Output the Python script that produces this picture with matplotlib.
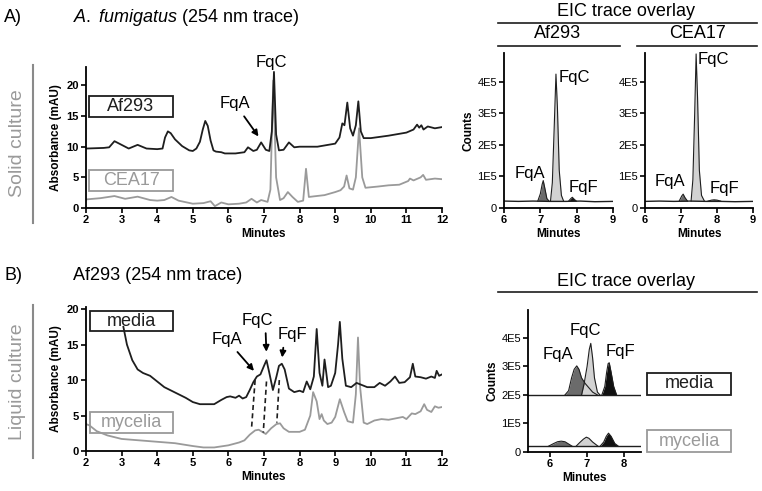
import numpy as np
import matplotlib
matplotlib.use("Agg")
import matplotlib.pyplot as plt
from matplotlib.patches import Rectangle
from matplotlib.lines import Line2D

plt.rcParams['font.family'] = ['Liberation Sans', 'DejaVu Sans']
plt.rcParams['mathtext.fontset'] = 'custom'
plt.rcParams['mathtext.it'] = 'Liberation Sans:italic'
plt.rcParams['mathtext.rm'] = 'Liberation Sans'

# ---- A) solid culture, 254 nm traces (minutes, mAU) ----
a_af293_t = [2.0, 2.5, 2.65, 2.8, 3.0, 3.2, 3.45, 3.7, 4.0, 4.15, 4.22, 4.3, 4.38, 4.5, 4.7, 4.9,
             5.0, 5.1, 5.2, 5.28, 5.35, 5.42, 5.5, 5.58, 5.65, 5.8, 5.9, 6.2, 6.45, 6.55, 6.7, 6.8,
             6.92, 7.05, 7.15, 7.22, 7.28, 7.34, 7.42, 7.55, 7.7, 7.85, 8.0, 8.5, 9.0, 9.12, 9.2,
             9.26, 9.34, 9.42, 9.5, 9.58, 9.65, 9.72, 9.8, 10.0, 10.5, 11.0, 11.2, 11.3, 11.36,
             11.42, 11.48, 11.6, 11.8, 12.0]
a_af293_v = [9.7, 9.8, 9.9, 10.9, 10.3, 9.7, 10.3, 9.7, 9.6, 9.7, 11.5, 12.5, 12.2, 11.2, 10.1, 9.4,
             9.3, 9.7, 10.8, 12.8, 14.2, 13.4, 11.0, 9.4, 9.2, 9.1, 8.9, 8.9, 9.1, 9.9, 9.3, 9.5,
             10.7, 9.5, 9.3, 12.5, 22.2, 12.0, 9.4, 9.5, 10.7, 9.9, 10.0, 10.0, 10.5, 11.5, 13.8,
             13.5, 17.2, 13.0, 11.8, 13.5, 17.4, 12.5, 11.4, 11.4, 11.8, 12.3, 12.8, 13.6, 13.1,
             13.5, 12.8, 13.3, 13.0, 13.2]

a_cea17_t = [2.0, 2.4, 2.8, 3.1, 3.45, 3.8, 4.0, 4.2, 4.4, 4.6, 5.0, 5.3, 5.5, 5.62, 5.8, 6.0, 6.3,
             6.5, 6.65, 6.8, 6.92, 7.1, 7.18, 7.26, 7.34, 7.45, 7.55, 7.67, 7.8, 7.95, 8.1, 8.18, 8.26,
             8.4, 8.7, 9.0, 9.15, 9.25, 9.32, 9.4, 9.5, 9.58, 9.67, 9.76, 9.85, 10.2, 10.5, 10.8, 11.05,
             11.1, 11.2, 11.4, 11.47, 11.55, 11.8, 12.0]
a_cea17_v = [1.4, 1.6, 1.95, 1.5, 1.85, 1.3, 1.2, 1.3, 1.8, 1.2, 0.7, 0.8, 1.1, 0.3, 0.9, 0.6, 0.7,
             0.9, 1.5, 0.9, 1.3, 1.0, 3.0, 20.8, 5.0, 1.3, 1.6, 2.6, 1.8, 1.0, 1.2, 6.4, 1.8,
             1.9, 2.1, 2.6, 2.9, 3.5, 5.3, 3.2, 3.0, 5.0, 13.0, 5.0, 3.3, 3.5, 3.7, 3.8, 4.4,
             4.8, 4.5, 5.0, 5.4, 4.6, 4.8, 4.7]

# ---- B) liquid culture, Af293 254 nm traces ----
b_media_t = [3.05, 3.15, 3.3, 3.45, 3.6, 3.8, 4.0, 4.2, 4.4, 4.6, 4.8, 5.0, 5.2, 5.6, 5.8, 5.95,
             6.05, 6.2, 6.3, 6.4, 6.5, 6.6, 6.7, 6.8, 6.9, 7.0, 7.07, 7.15, 7.25, 7.35, 7.42, 7.5,
             7.58, 7.7, 7.85, 8.0, 8.1, 8.2, 8.3, 8.4, 8.48, 8.56, 8.64, 8.7, 8.75, 8.8, 8.88, 9.0,
             9.08, 9.13, 9.2, 9.3, 9.45, 9.6, 9.75, 9.9, 10.1, 10.25, 10.4, 10.55, 10.68, 10.8,
             10.95, 11.1, 11.18, 11.25, 11.4, 11.55, 11.7, 11.8, 11.85, 11.92, 12.0]
b_media_v = [17.5, 15.0, 12.8, 11.5, 11.0, 10.6, 9.8, 9.0, 8.5, 8.0, 7.5, 6.9, 6.6, 6.6, 7.2, 7.6,
             7.7, 7.5, 7.8, 7.4, 7.6, 8.6, 9.7, 10.5, 10.8, 12.0, 12.8, 11.0, 8.6, 10.5, 12.0, 12.3,
             11.5, 8.8, 8.3, 8.5, 8.3, 9.8, 8.7, 10.5, 17.2, 11.0, 9.2, 12.9, 11.0, 9.0, 9.2, 11.0,
             15.0, 18.2, 13.0, 9.2, 9.0, 9.6, 9.3, 9.0, 9.0, 9.6, 9.2, 9.8, 10.5, 9.6,
             9.7, 10.4, 12.3, 10.5, 10.4, 10.2, 10.5, 10.3, 11.3, 10.6, 10.8]

b_myc_t = [2.0, 2.1, 2.3, 2.6, 3.0, 3.5, 4.0, 4.5, 5.0, 5.3, 5.6, 6.0, 6.3, 6.45, 6.6, 6.75, 6.85,
           6.95, 7.05, 7.2, 7.35, 7.45, 7.55, 7.7, 8.0, 8.15, 8.3, 8.38, 8.48, 8.56, 8.62, 8.68,
           8.78, 8.9, 9.0, 9.13, 9.25, 9.35, 9.5, 9.58, 9.64, 9.7, 9.8, 9.9, 10.1, 10.3, 10.5,
           10.7, 10.9, 11.0, 11.15, 11.25, 11.4, 11.5, 11.58, 11.7, 11.8, 11.9, 12.0]
b_myc_v = [3.8, 3.6, 2.8, 2.2, 1.7, 1.5, 1.3, 1.1, 0.7, 0.5, 0.5, 0.8, 1.2, 1.5, 2.3, 2.9, 3.0,
           2.7, 2.4, 3.2, 3.8, 3.9, 3.2, 2.7, 2.7, 3.0, 5.0, 8.3, 7.0, 4.5, 5.2, 4.3,
           3.8, 4.0, 4.8, 7.3, 5.5, 4.2, 4.0, 8.0, 16.0, 9.0, 4.0, 3.8, 4.3, 4.5, 4.4,
           4.6, 4.8, 4.5, 5.3, 5.2, 5.6, 6.6, 5.8, 5.5, 6.3, 6.1, 6.2]

# dashed connectors between the media and mycelia peaks (t_top, v_top, t_bottom, v_bottom)
b_links = [(6.75, 10.0, 6.65, 3.2), (7.07, 9.8, 6.98, 2.6), (7.43, 10.0, 7.36, 4.0)]

# ---- EIC peaks (minutes, counts) ----
eic_a_af293 = {
    'base': ([6.0, 6.4, 6.8, 7.25, 7.7, 8.1, 8.5, 9.0], [0.22e5, 0.21e5, 0.22e5, 0.21e5, 0.21e5, 0.22e5, 0.2e5, 0.21e5]),
    'FqA': ([6.93, 7.0, 7.05, 7.08, 7.12, 7.18, 7.24], [0.22e5, 0.45e5, 0.75e5, 0.87e5, 0.65e5, 0.3e5, 0.22e5]),
    'FqC': ([7.28, 7.33, 7.38, 7.43, 7.47, 7.52, 7.58, 7.64], [0.22e5, 0.8e5, 2.5e5, 4.25e5, 3.2e5, 1.2e5, 0.4e5, 0.22e5]),
    'FqF': ([7.78, 7.84, 7.88, 7.93, 7.99], [0.22e5, 0.3e5, 0.34e5, 0.28e5, 0.22e5]),
}
eic_a_cea17 = {
    'base': ([6.0, 6.4, 6.8, 7.25, 7.7, 8.1, 8.5, 9.0], [0.21e5, 0.22e5, 0.21e5, 0.22e5, 0.21e5, 0.21e5, 0.2e5, 0.21e5]),
    'FqA': ([6.95, 7.02, 7.06, 7.11, 7.18], [0.22e5, 0.38e5, 0.44e5, 0.33e5, 0.22e5]),
    'FqC': ([7.28, 7.33, 7.38, 7.42, 7.46, 7.51, 7.57, 7.65], [0.22e5, 0.9e5, 3.0e5, 4.89e5, 3.5e5, 1.2e5, 0.4e5, 0.22e5]),
    'FqF': ([7.75, 7.85, 7.92, 8.0, 8.1], [0.22e5, 0.25e5, 0.26e5, 0.25e5, 0.22e5]),
}
eic_b_media = {
    'base': ([5.4, 8.46], [2.0e5, 2.0e5]),
    'FqA': ([6.4, 6.5, 6.58, 6.65, 6.72, 6.78, 6.85, 6.95, 7.05, 7.15, 7.28],
            [2.0e5, 2.15e5, 2.6e5, 2.9e5, 3.02e5, 2.9e5, 2.6e5, 2.4e5, 2.25e5, 2.1e5, 2.0e5]),
    'FqC': ([6.85, 6.92, 7.0, 7.06, 7.1, 7.15, 7.2, 7.28, 7.35],
            [2.0e5, 2.4e5, 3.0e5, 3.6e5, 3.81e5, 3.3e5, 2.6e5, 2.1e5, 2.0e5]),
    'FqF': ([7.4, 7.48, 7.53, 7.57, 7.6, 7.65, 7.72, 7.8],
            [2.0e5, 2.3e5, 2.8e5, 3.1e5, 3.13e5, 2.8e5, 2.3e5, 2.0e5]),
}
eic_b_myc = {
    'base': ([5.4, 8.46], [0.2e5, 0.2e5]),
    'FqA': ([5.95, 6.1, 6.2, 6.3, 6.4, 6.5, 6.6], [0.2e5, 0.3e5, 0.36e5, 0.38e5, 0.36e5, 0.28e5, 0.2e5]),
    'FqC': ([6.7, 6.8, 6.9, 6.98, 7.05, 7.15, 7.3], [0.2e5, 0.33e5, 0.45e5, 0.52e5, 0.48e5, 0.35e5, 0.2e5]),
    'FqF': ([7.35, 7.45, 7.52, 7.58, 7.65, 7.75, 7.85], [0.2e5, 0.35e5, 0.55e5, 0.66e5, 0.55e5, 0.3e5, 0.2e5]),
}

eic_colors = {'FqA': '#6b6b6b', 'FqC': '#d2d2d2', 'FqF': '#101010'}
count_ticks = [0, 1e5, 2e5, 3e5, 4e5]
count_labels = ['0', '1E5', '2E5', '3E5', '4E5']

BLACK = '#1e1e1e'
GRAY = '#9a9a9a'

W, H = 762, 491
fig = plt.figure(figsize=(W / 100, H / 100), dpi=100)


def rect(x0, y0, x1, y1):
    # pixel box -> figure fraction [left, bottom, width, height]
    return [x0 / W, 1 - y1 / H, (x1 - x0) / W, (y1 - y0) / H]


def fx(x):
    return x / W


def fy(y):
    return 1 - y / H


def style_axes(ax, bold_y=True):
    for s in ['top', 'right']:
        ax.spines[s].set_visible(False)
    for s in ['left', 'bottom']:
        ax.spines[s].set_linewidth(1.3)
    ax.tick_params(direction='out', length=3.5, width=1.2, labelsize=8, pad=1.5)
    for lab in ax.get_xticklabels():
        lab.set_fontweight('bold')
    if bold_y:
        for lab in ax.get_yticklabels():
            lab.set_fontweight('bold')


def draw_eic(ax, trace):
    bt, bv = trace['base']
    for name in ['FqA', 'FqC', 'FqF']:
        t, v = trace[name]
        ax.fill_between(t, bv[0], v, color=eic_colors[name], lw=0)
    ax.plot(bt, bv, color=BLACK, lw=1.0)
    for name in ['FqA', 'FqC', 'FqF']:
        t, v = trace[name]
        ax.plot(t, v, color=BLACK, lw=0.8)


def box(x0, y0, x1, y1, label, color):
    fig.add_artist(Rectangle((fx(x0), fy(y1)), (x1 - x0) / W, (y1 - y0) / H,
                             transform=fig.transFigure, fill=False, ec=color, lw=1.3))
    fig.text(fx((x0 + x1) / 2), fy((y0 + y1) / 2), label, color=color, fontsize=13,
             ha='center', va='center')


def hline(x0, x1, y):
    fig.add_artist(Line2D([fx(x0), fx(x1)], [fy(y), fy(y)], transform=fig.transFigure,
                          color=BLACK, lw=1.2))


arrow = dict(arrowstyle='-|>', color='black', lw=1.3, mutation_scale=9)
ann_size = 12

# ---------------- A) left chromatogram ----------------
ax1 = fig.add_axes(rect(86, 67, 442, 208))
ax1.plot(a_cea17_t, a_cea17_v, color=GRAY, lw=1.3)
ax1.plot(a_af293_t, a_af293_v, color=BLACK, lw=1.3)
ax1.set_xlim(2, 12)
ax1.set_ylim(0, 23)
ax1.set_xticks(range(2, 13))
ax1.set_yticks([0, 5, 10, 15, 20])
ax1.set_xlabel('Minutes', fontsize=8.5, fontweight='bold', labelpad=2)
ax1.set_ylabel('Absorbance (mAU)', fontsize=8.5, fontweight='bold', labelpad=3)
style_axes(ax1)
ax1.annotate('FqA', xy=(6.89, 11.3), xytext=(6.19, 17.0), ha='center', va='center',
             fontsize=ann_size, arrowprops=arrow)
ax1.text(7.22, 23.7, 'FqC', ha='center', va='center', fontsize=ann_size, clip_on=False)

# ---------------- A) EIC overlays ----------------
ax2 = fig.add_axes(rect(504, 53, 613, 208))
draw_eic(ax2, eic_a_af293)
ax3 = fig.add_axes(rect(645, 53, 753, 208))
draw_eic(ax3, eic_a_cea17)
for ax in (ax2, ax3):
    ax.set_xlim(6, 9)
    ax.set_ylim(0, 4.92e5)
    ax.set_xticks([6, 7, 8, 9])
    ax.set_yticks(count_ticks)
    ax.set_yticklabels(count_labels)
    ax.set_xlabel('Minutes', fontsize=8.5, fontweight='bold', labelpad=2)
    style_axes(ax, bold_y=False)
ax2.set_ylabel('Counts', fontsize=8.5, fontweight='bold', labelpad=2)
ax2.text(6.72, 1.1e5, 'FqA', ha='center', va='center', fontsize=ann_size)
ax2.text(7.95, 4.13e5, 'FqC', ha='center', va='center', fontsize=ann_size)
ax2.text(8.18, 0.66e5, 'FqF', ha='center', va='center', fontsize=ann_size)
ax3.text(6.69, 0.83e5, 'FqA', ha='center', va='center', fontsize=ann_size)
ax3.text(7.9, 4.72e5, 'FqC', ha='center', va='center', fontsize=ann_size)
ax3.text(8.22, 0.63e5, 'FqF', ha='center', va='center', fontsize=ann_size)

# ---------------- B) left chromatogram ----------------
ax4 = fig.add_axes(rect(86, 307, 442, 451))
ax4.plot(b_myc_t, b_myc_v, color=GRAY, lw=1.3)
ax4.plot(b_media_t, b_media_v, color=BLACK, lw=1.3)
for t0, v0, t1, v1 in b_links:
    ax4.plot([t0, t1], [v0, v1], color=BLACK, lw=1.2, ls=(0, (3, 2)))
ax4.set_xlim(2, 12)
ax4.set_ylim(0, 20.3)
ax4.set_xticks(range(2, 13))
ax4.set_yticks([0, 5, 10, 15, 20])
ax4.set_xlabel('Minutes', fontsize=8.5, fontweight='bold', labelpad=2)
ax4.set_ylabel('Absorbance (mAU)', fontsize=8.5, fontweight='bold', labelpad=3)
style_axes(ax4)
ax4.annotate('FqA', xy=(6.77, 11.0), xytext=(5.95, 15.7), ha='center', va='center',
             fontsize=ann_size, arrowprops=arrow)
ax4.annotate('FqC', xy=(7.07, 13.6), xytext=(6.82, 18.45), ha='center', va='center',
             fontsize=ann_size, arrowprops=dict(arrow, relpos=(0.75, 0)))
ax4.annotate('FqF', xy=(7.5, 12.8), xytext=(7.81, 16.4), ha='center', va='center',
             fontsize=ann_size, arrowprops=dict(arrow, relpos=(0.2, 0)))

# ---------------- B) EIC overlay ----------------
ax5 = fig.add_axes(rect(528, 310, 641, 452))
draw_eic(ax5, eic_b_myc)
draw_eic(ax5, eic_b_media)
ax5.set_xlim(5.4, 8.46)
ax5.set_ylim(0, 4.98e5)
ax5.set_xticks([6, 7, 8])
ax5.set_yticks(count_ticks)
ax5.set_yticklabels(count_labels)
ax5.set_xlabel('Minutes', fontsize=8.5, fontweight='bold', labelpad=2)
ax5.set_ylabel('Counts', fontsize=8.5, fontweight='bold', labelpad=2)
style_axes(ax5, bold_y=False)
ax5.text(6.22, 3.43e5, 'FqA', ha='center', va='center', fontsize=ann_size)
ax5.text(6.96, 4.26e5, 'FqC', ha='center', va='center', fontsize=ann_size)
ax5.text(7.89, 3.52e5, 'FqF', ha='center', va='center', fontsize=ann_size)

# ---------------- boxes, headers, side labels ----------------
box(89, 96, 173, 117, 'Af293', BLACK)
box(89, 170, 173, 191, 'CEA17', GRAY)
box(90, 311, 173, 331, 'media', BLACK)
box(90, 412, 173, 433, 'mycelia', GRAY)
box(647, 373, 731, 395, 'media', BLACK)
box(647, 430, 731, 452, 'mycelia', GRAY)

fig.text(fx(4), fy(17), 'A)', fontsize=13, va='center')
fig.text(fx(73), fy(17), r'$\it{A.\ fumigatus}$ (254 nm trace)', fontsize=13, va='center')
fig.text(fx(4), fy(275), 'B)', fontsize=13, va='center')
fig.text(fx(73), fy(275), 'Af293 (254 nm trace)', fontsize=13, va='center')

fig.text(fx(626), fy(12), 'EIC trace overlay', fontsize=13, ha='center', va='center')
hline(498, 757, 22.7)
fig.text(fx(558), fy(33), 'Af293', fontsize=13, ha='center', va='center')
fig.text(fx(698), fy(33), 'CEA17', fontsize=13, ha='center', va='center')
hline(498, 620, 45.7)
hline(637, 757, 45.7)
fig.text(fx(626), fy(281), 'EIC trace overlay', fontsize=13, ha='center', va='center')
hline(498, 757, 292)

fig.add_artist(Line2D([fx(33), fx(33)], [fy(65), fy(223)], transform=fig.transFigure, color='#8a8a8a', lw=1.5))
fig.add_artist(Line2D([fx(33), fx(33)], [fy(305), fy(458)], transform=fig.transFigure, color='#8a8a8a', lw=1.5))
fig.text(fx(18), fy(143), 'Solid culture', color=GRAY, fontsize=14, rotation=90, ha='center', va='center')
fig.text(fx(18), fy(382), 'Liquid culture', color=GRAY, fontsize=14, rotation=90, ha='center', va='center')

fig.savefig('out.png', dpi=100)
